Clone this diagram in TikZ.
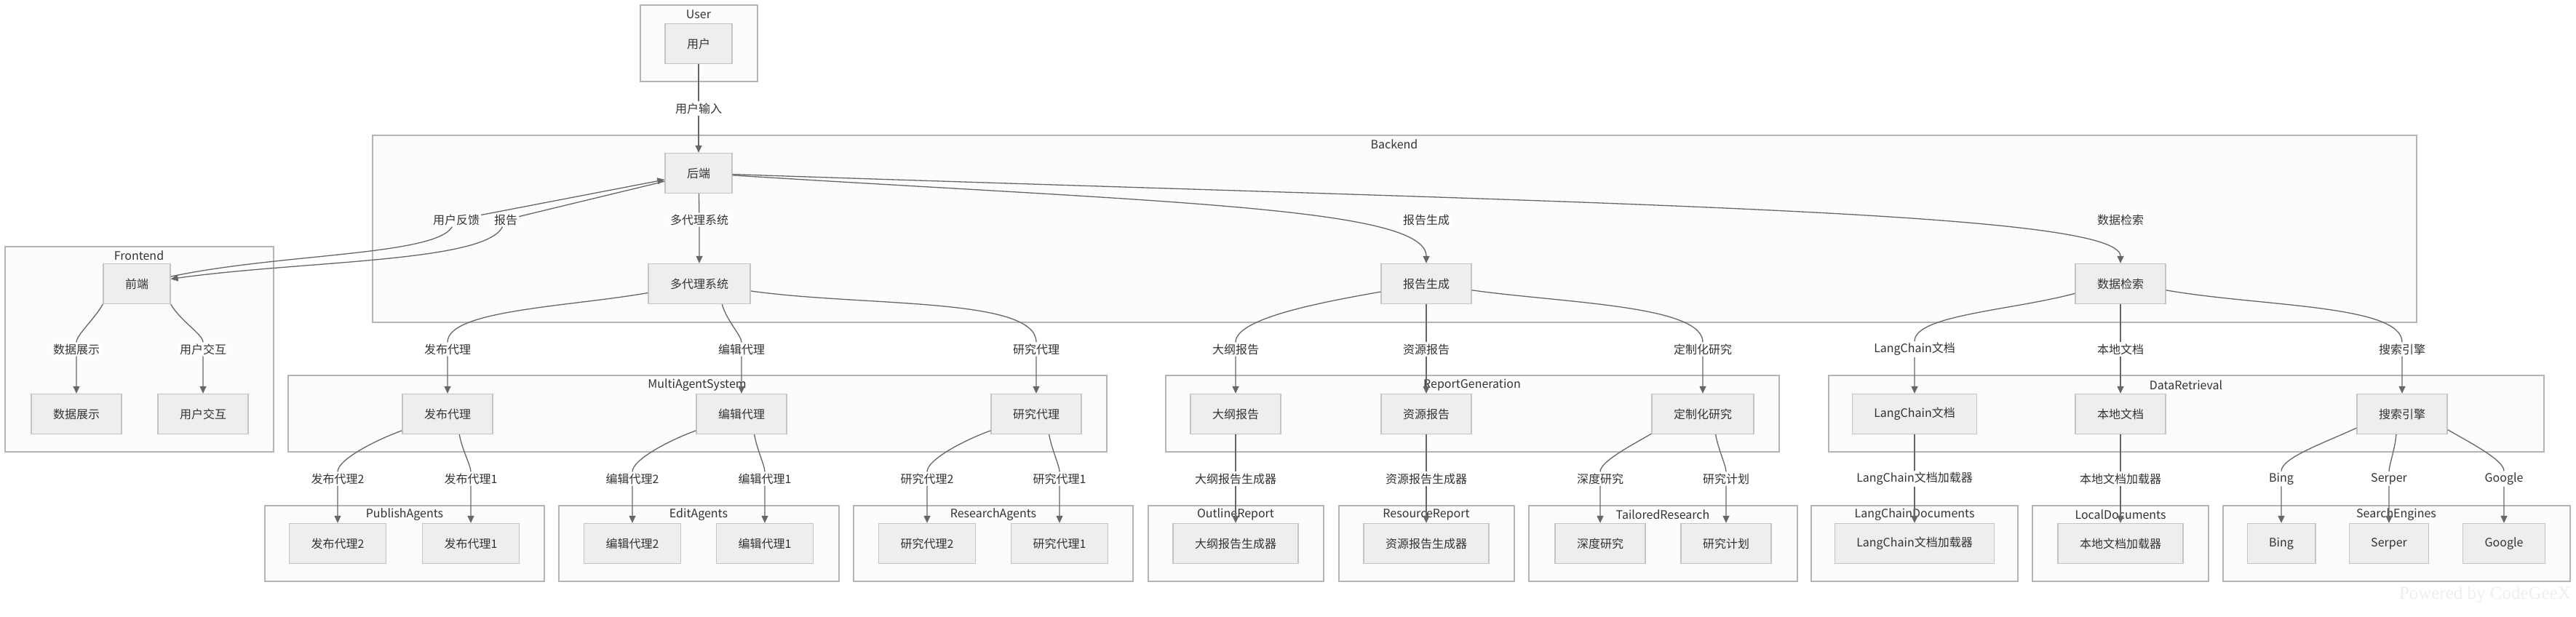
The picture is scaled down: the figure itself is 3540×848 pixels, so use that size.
\documentclass[tikz,border=0pt]{standalone}
\usepackage{fontspec}
\setmainfont{Noto Sans CJK SC}
\newfontfamily\wmfont{Liberation Serif}
\usepackage{xcolor}
\usepackage{tikz}
\usetikzlibrary{arrows.meta}
\definecolor{clfill}{HTML}{FCFCFC}
\definecolor{cldraw}{HTML}{B4B4B4}
\definecolor{ndfill}{HTML}{EEEEEE}
\definecolor{nddraw}{HTML}{C4C4C4}
\definecolor{edcol}{HTML}{666666}
\definecolor{txcol}{HTML}{333333}
\definecolor{wmcol}{HTML}{EFEFEF}

\begin{document}
\begin{tikzpicture}[x=1pt,y=1pt,font=\fontsize{16}{19}\selectfont]
\tikzstyle{cl}=[draw=cldraw,fill=clfill,line width=2pt]
\tikzstyle{cll}=[text=txcol]
\tikzstyle{nd}=[draw=nddraw,fill=ndfill,line width=1.3pt,shape=rectangle,minimum height=55pt,inner xsep=30pt,text=txcol]
\tikzstyle{el}=[fill=white,inner sep=2pt,text=txcol]
\tikzstyle{arr}=[draw=edcol,line width=1.3pt,-{Triangle[length=10pt,width=9pt]}]
\tikzstyle{crv}=[in=90,in looseness=0.4]
%
\path[use as bounding box,fill=white] (0,0) rectangle (3540,-848);
%
\draw[cl] (880,-7) rectangle (1041,-112);
\node[cll](cUser) at (960,-20){User};
\draw[cl] (512,-186) rectangle (3321,-443);
\node[cll](cBackend) at (1916,-198){Backend};
\draw[cl] (7,-339) rectangle (376,-621);
\node[cll](cFrontend) at (191,-351){Frontend};
\draw[cl] (396,-516) rectangle (1521,-621);
\node[cll](cMulti) at (958,-529){MultiAgentSystem};
\draw[cl] (1602,-516) rectangle (2445,-621);
\node[cll](cReport) at (2023,-529){ReportGeneration};
\draw[cl] (2513,-516) rectangle (3496,-621);
\node[cll](cData) at (3004,-529){DataRetrieval};
\draw[cl] (364,-695) rectangle (748,-799);
\node[cll](cPublish) at (556,-707){PublishAgents};
\draw[cl] (768,-695) rectangle (1153,-799);
\node[cll](cEdit) at (960,-707){EditAgents};
\draw[cl] (1173,-695) rectangle (1557,-799);
\node[cll](cResearch) at (1365,-707){ResearchAgents};
\draw[cl] (1578,-695) rectangle (1819,-799);
\node[cll](cOutline) at (1698,-707){OutlineReport};
\draw[cl] (1840,-695) rectangle (2081,-799);
\node[cll](cResource) at (1960,-707){ResourceReport};
\draw[cl] (2101,-695) rectangle (2470,-799);
\node[cll](cTailored) at (2285,-707){TailoredResearch};
\draw[cl] (2489,-695) rectangle (2773,-799);
\node[cll](cLangDocs) at (2631,-707){LangChainDocuments};
\draw[cl] (2793,-695) rectangle (3035,-799);
\node[cll](cLocalDocs) at (2914,-707){LocalDocuments};
\draw[cl] (3055,-695) rectangle (3532,-799);
\node[cll](cSearch) at (3293,-707){SearchEngines};
%
\node[nd](user) at (960,-60){用户};
\node[nd](be) at (960,-238){后端};
%
\node[nd](fe) at (188,-390){前端};
\node[nd](mas) at (961,-390){多代理系统};
\node[nd](rg) at (1960,-390){报告生成};
\node[nd](dr) at (2914,-390){数据检索};
%
\node[nd](dd) at (105,-569){数据展示};
\node[nd](ui) at (279,-569){用户交互};
\node[nd](pa) at (615,-569){发布代理};
\node[nd](ea) at (1019,-569){编辑代理};
\node[nd](ra) at (1424,-569){研究代理};
\node[nd](orp) at (1698,-569){大纲报告};
\node[nd](rrp) at (1960,-569){资源报告};
\node[nd](tr) at (2340,-569){定制化研究};
\node[nd](lcd) at (2631,-569){LangChain文档};
\node[nd](ld) at (2914,-569){本地文档};
\node[nd](se) at (3301,-569){搜索引擎};
%
\node[nd](pa2) at (464,-747){发布代理2};
\node[nd](pa1) at (647,-747){发布代理1};
\node[nd](ea2) at (869,-747){编辑代理2};
\node[nd](ea1) at (1051,-747){编辑代理1};
\node[nd](ra2) at (1274,-747){研究代理2};
\node[nd](ra1) at (1456,-747){研究代理1};
\node[nd](org) at (1698,-747){大纲报告生成器};
\node[nd](rrg) at (1960,-747){资源报告生成器};
\node[nd](dp) at (2199,-747){深度研究};
\node[nd](rp) at (2372,-747){研究计划};
\node[nd](lcl) at (2631,-747){LangChain文档加载器};
\node[nd](ldl) at (2914,-747){本地文档加载器};
\node[nd](bing) at (3135,-747){Bing};
\node[nd](serper) at (3283,-747){Serper};
\node[nd](google) at (3441,-747){Google};
%
\node[el](tin) at (960,-149){用户输入};
\node[el](tfb) at (627,-302){用户反馈};
\node[el](trep) at (695,-302){报告};
\node[el](tmas) at (961,-302){多代理系统};
\node[el](trg) at (1960,-302){报告生成};
\node[el](tdr) at (2914,-302){数据检索};
%
\node[el](tdd) at (105,-480){数据展示};
\node[el](tui) at (279,-480){用户交互};
\node[el](tpa) at (615,-480){发布代理};
\node[el](tea) at (1019,-480){编辑代理};
\node[el](tra) at (1424,-480){研究代理};
\node[el](torp) at (1698,-480){大纲报告};
\node[el](trrp) at (1960,-480){资源报告};
\node[el](ttr) at (2340,-480){定制化研究};
\node[el](tlcd) at (2631,-480){LangChain文档};
\node[el](tld) at (2914,-480){本地文档};
\node[el](tse) at (3301,-480){搜索引擎};
%
\node[el](tpa2) at (464,-658){发布代理2};
\node[el](tpa1) at (647,-658){发布代理1};
\node[el](tea2) at (869,-658){编辑代理2};
\node[el](tea1) at (1051,-658){编辑代理1};
\node[el](tra2) at (1274,-658){研究代理2};
\node[el](tra1) at (1456,-658){研究代理1};
\node[el](torg) at (1698,-658){大纲报告生成器};
\node[el](trrg) at (1960,-658){资源报告生成器};
\node[el](tdp) at (2199,-658){深度研究};
\node[el](trp) at (2372,-658){研究计划};
\node[el](tlcl) at (2631,-658){LangChain文档加载器};
\node[el](tldl) at (2914,-658){本地文档加载器};
\node[el](tbing) at (3135,-658){Bing};
\node[el](tserper) at (3283,-658){Serper};
\node[el](tgoogle) at (3441,-658){Google};
%
\draw[arr] (user) -- (tin) -- (be);
\draw[arr] (fe) to[out=12,in=-120,in looseness=0.3] (tfb) -- (be);
\draw[arr] (be) -- (trep) to[out=-115,in=8,out looseness=0.3] (fe);
\draw[arr] (be) -- (tmas) -- (mas);
\draw[arr] (be) .. controls (1600,-278) and (1960,-285) .. (rg);
\draw[arr] (be) .. controls (2200,-280) and (2914,-290) .. (dr);
%
\draw[arr] (fe.south west) to[out=-120,crv] (tdd) -- (dd);
\draw[arr] (fe.south east) to[out=-60,crv] (tui) -- (ui);
%
\draw[arr] (mas.190) to[out=190,crv] (tpa) -- (pa);
\draw[arr] (mas.318) to[out=-75,crv] (tea) -- (ea);
\draw[arr] (mas.352) to[out=-8,crv] (tra) -- (ra);
%
\draw[arr] (rg.190) to[out=190,crv] (torp) -- (orp);
\draw[arr] (rg) -- (trrp) -- (rrp);
\draw[arr] (rg.352) to[out=-8,crv] (ttr) -- (tr);
%
\draw[arr] (dr.192) to[out=195,crv] (tlcd) -- (lcd);
\draw[arr] (dr) -- (tld) -- (ld);
\draw[arr] (dr.352) to[out=-10,crv] (tse) -- (se);
%
\draw[arr] (pa.200) to[out=200,crv] (tpa2) -- (pa2);
\draw[arr] (pa.300) to[out=-80,crv] (tpa1) -- (pa1);
\draw[arr] (ea.200) to[out=200,crv] (tea2) -- (ea2);
\draw[arr] (ea.302) to[out=-80,crv] (tea1) -- (ea1);
\draw[arr] (ra.200) to[out=200,crv] (tra2) -- (ra2);
\draw[arr] (ra.302) to[out=-80,crv] (tra1) -- (ra1);
%
\draw[arr] (orp) -- (torg) -- (org);
\draw[arr] (rrp) -- (trrg) -- (rrg);
\draw[arr] (tr.201) to[out=210,crv] (tdp) -- (dp);
\draw[arr] (tr.302) to[out=-80,crv] (trp) -- (rp);
%
\draw[arr] (lcd) -- (tlcl) -- (lcl);
\draw[arr] (ld) -- (tldl) -- (ldl);
\draw[arr] (se.197) to[out=205,crv] (tbing) -- (bing);
\draw[arr] (se.254) to[out=-95,crv] (tserper) -- (serper);
\draw[arr] (se.341) to[out=-30,crv] (tgoogle) -- (google);
%
\node[text=wmcol,font=\wmfont\fontsize{25}{30}\selectfont](wm) at (3415,-818){Powered by CodeGeeX};
\end{tikzpicture}
\end{document}
